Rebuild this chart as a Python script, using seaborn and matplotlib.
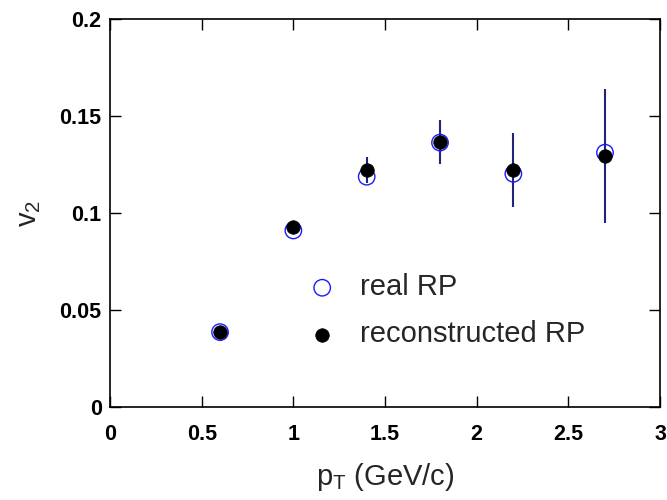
import matplotlib
matplotlib.use("Agg")
import matplotlib.pyplot as plt
import seaborn as sns
import pandas as pd
import numpy as np

pt = [0.6, 1.0, 1.4, 1.8, 2.2, 2.7]
v2_real = [0.0386, 0.0910, 0.1187, 0.1363, 0.1202, 0.1311]
v2_reco = [0.0386, 0.0927, 0.1221, 0.1368, 0.1221, 0.1294]
v2_err = [0.0015, 0.0025, 0.0067, 0.0113, 0.0190, 0.0347]

xticks = [0, 0.5, 1, 1.5, 2, 2.5, 3]
xticklabels = ["0", "0.5", "1", "1.5", "2", "2.5", "3"]
yticks = [0, 0.05, 0.1, 0.15, 0.2]
yticklabels = ["0", "0.05", "0.1", "0.15", "0.2"]

sns.set_style("ticks")
plt.rcParams['font.family'] = ['Liberation Sans', 'DejaVu Sans']

fig = plt.figure(figsize=(6.67, 5.0), dpi=100)
ax = fig.add_axes([0.165, 0.186, 0.8245, 0.776])

df = pd.DataFrame({"pt": pt, "real": v2_real, "reco": v2_reco, "err": v2_err})

ax.errorbar(df["pt"], df["reco"], yerr=df["err"], fmt="none",
            ecolor="#23237a", elinewidth=1.5, capsize=0, zorder=1)

sns.scatterplot(data=df, x="pt", y="real", ax=ax, marker="o", s=140,
                facecolor="none", edgecolor="#1a1aff", linewidth=1.0,
                label="real RP", zorder=2)
sns.scatterplot(data=df, x="pt", y="reco", ax=ax, marker="o", s=95,
                color="black", edgecolor="black", linewidth=0.5,
                label="reconstructed RP", zorder=3)

ax.set_xlim(0, 3)
ax.set_ylim(0, 0.2)
ax.set_xticks(xticks)
ax.set_xticklabels(xticklabels, fontsize=15.5, fontweight="bold")
ax.set_yticks(yticks)
ax.set_yticklabels(yticklabels, fontsize=15.5, fontweight="bold")
ax.tick_params(direction="in", length=8, width=1.0, top=True, right=True,
               colors="black")
ax.tick_params(axis="x", pad=12)
ax.tick_params(axis="y", pad=6)
for s in ax.spines.values():
    s.set_linewidth(1.2)
    s.set_color("black")

ax.set_xlabel(r"p$_\mathregular{T}$ (GeV/c)", fontsize=21, labelpad=12)
ax.set_ylabel(r"v$_\mathregular{2}$", fontsize=21, labelpad=12)

leg = ax.legend(loc="upper left", bbox_to_anchor=(0.285, 0.412), frameon=False,
                fontsize=21, handletextpad=0.3, labelspacing=0.65,
                markerscale=1.0)

fig.savefig("out.png", dpi=100)
